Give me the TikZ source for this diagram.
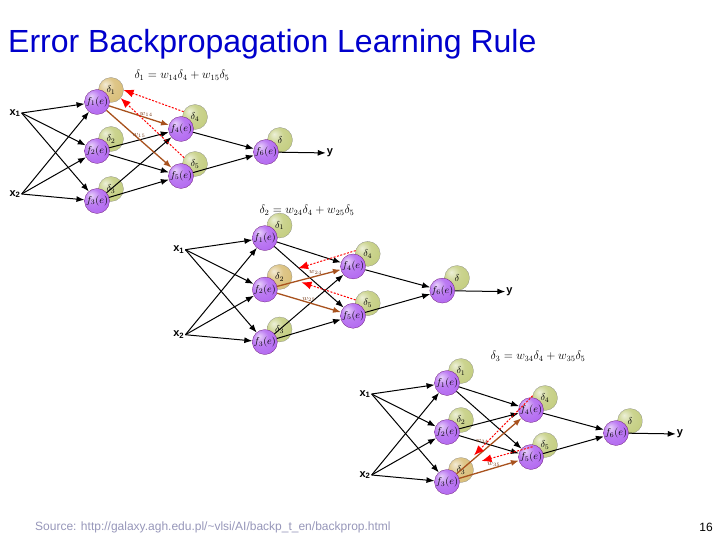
\documentclass[tikz,border=0pt]{standalone}
\usepackage{fontspec}
\setmainfont{Liberation Sans}
\usetikzlibrary{arrows.meta}

\definecolor{titleblue}{RGB}{0,0,204}
\definecolor{fpurple}{RGB}{176,100,240}
\definecolor{dgreen}{RGB}{194,204,124}
\definecolor{dtan}{RGB}{216,188,116}
\definecolor{wbrown}{RGB}{168,82,30}
\definecolor{srcgray}{RGB}{150,150,185}

\colorlet{softcol}{fpurple}
\pgfdeclareradialshading[softcol]{softball}{\pgfqpoint{-12bp}{12bp}}{%
	color(0bp)=(softcol!30!white); color(16bp)=(softcol!85!white);
	color(38bp)=(softcol); color(62bp)=(softcol!78!black)}
\tikzset{soft color/.code={\colorlet{softcol}{#1}}}

% one copy of the network, #1 = hidden neuron whose error is computed
\newcommand{\bpnet}[1]{%
	\foreach \i/\yy in {1/102,2/151,3/201}{%
		\ifnum\i=#1 \def\dcol{dtan}\else\def\dcol{dgreen}\fi
		\node [dnode, soft color=\dcol] (d\i) at (111,\yy-12) {$\delta_\i$};
		\node [fnode] (f\i) at (97,\yy) {$f_\i(e)$};
	}
	\node [dnode] (d4) at (195,117) {$\delta_4$};
	\node [fnode] (f4) at (181,129) {$f_4(e)$};
	\node [dnode] (d5) at (195,164) {$\delta_5$};
	\node [fnode] (f5) at (181,176) {$f_5(e)$};
	\node [dnode] (d6) at (280,140) {$\delta$};
	\node [fnode] (f6) at (266,152) {$f_6(e)$};
	\node [xlab] (x1) at (15,113) {x\textsubscript{1}};
	\node [xlab] (x2) at (15,194) {x\textsubscript{2}};
	\node [xlab] (y) at (330,153) {y};

	\foreach \i in {1,2,3}{%
		\draw [arr] (x1.east) -- (f\i);
		\draw [arr] (x2.east) -- (f\i);
		\ifnum\i=#1 \else
			\draw [arr] (f\i) -- (f4);
			\draw [arr] (f\i) -- (f5);
		\fi
	}
	\draw [arr] (f4) -- (f6);
	\draw [arr] (f5) -- (f6);
	\draw [arr] (f6) -- (y);
}

\begin{document}
\begin{tikzpicture}[x=1pt, y=-1pt,
		fnode/.style={circle, draw=violet!70!black, very thin, shading=softball, soft color=fpurple, minimum size=25pt, inner sep=0pt, font=\fontsize{10}{11}\selectfont},
		dnode/.style={circle, draw=gray, very thin, shading=softball, soft color=dgreen, minimum size=25pt, inner sep=0pt, font=\fontsize{10}{11}\selectfont},
		xlab/.style={font=\fontsize{11}{13}\selectfont\bfseries, inner sep=1pt},
		arr/.style={-{Latex[length=8pt,width=6pt]}, line width=1pt},
		wt/.style={-{Latex[length=8pt,width=6pt]}, line width=1.3pt, draw=wbrown},
		bp/.style={-{Latex[length=10pt,width=8pt]}, red, line width=1pt, dash pattern=on 2pt off 1.5pt},
		wlab/.style={font=\scriptsize, text=wbrown!70!black, inner sep=1pt},
		eq/.style={font=\fontsize{12}{14}\selectfont}]
	\useasboundingbox (0,0) rectangle (720,540);

	\node [anchor=base west, inner sep=0pt, text=titleblue, font=\fontsize{32}{36}\selectfont] (title) at (8,53) {Error Backpropagation Learning Rule};

	% error of neuron 1
	\begin{scope}[name prefix=a-]
		\bpnet{1}
		\draw [wt] (f1) -- node [wlab, pos=.62, above] {$w_{14}$} (f4);
		\draw [wt] (f1) -- node [wlab, pos=.5, above] {$w_{15}$} (f5);
		\draw [bp] (d4.155) -- (d1.east);
		\draw [bp] (d5.150) -- (d1.-40);
	\end{scope}
	\node [eq] (eq1) at (182,75) {$\delta_1 = w_{14}\delta_4 + w_{15}\delta_5$};

	% error of neuron 2
	\begin{scope}[name prefix=b-, shift={(163,131)}, scale=1.05]
		\bpnet{2}
		\draw [wt] (f2) -- node [wlab, pos=.6, above] {$w_{24}$} (f4);
		\draw [wt] (f2) -- node [wlab, pos=.5, above] {$w_{25}$} (f5);
		\draw [bp, shorten >=8pt] (d4.165) -- (d2.30);
		\draw [bp, shorten >=10pt] (d5.165) -- (d2.-10);
	\end{scope}
	\node [eq] (eq2) at (307,210) {$\delta_2 = w_{24}\delta_4 + w_{25}\delta_5$};

	% error of neuron 3
	\begin{scope}[name prefix=c-, shift={(350,281)}]
		\bpnet{3}
		\draw [wt] (f3) -- node [wlab, pos=.52, above left] {$w_{34}$} (f4);
		\draw [wt] (f3) -- node [wlab, pos=.58, above] {$w_{35}$} (f5);
		\draw [bp, shorten >=7pt] (d4.170) -- (d3.50);
		\draw [bp, shorten >=10pt] (d5.188) -- (d3.30);
	\end{scope}
	\node [eq] (eq3) at (538,356) {$\delta_3 = w_{34}\delta_4 + w_{35}\delta_5$};

	\node [anchor=base west, inner sep=0pt, text=srcgray, font=\fontsize{12}{14}\selectfont] (src) at (35,530) {Source: http://galaxy.agh.edu.pl/\textasciitilde vlsi/AI/backp\_t\_en/backprop.html};
	\node [anchor=base east, inner sep=0pt, font=\fontsize{12}{14}\selectfont] (page) at (713,531) {16};
\end{tikzpicture}
\end{document}
